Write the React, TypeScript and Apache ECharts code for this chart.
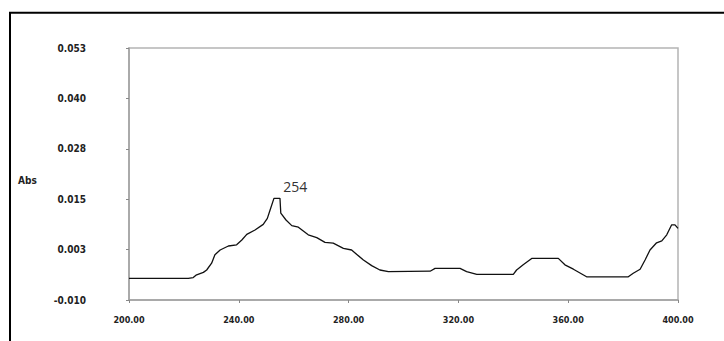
import React, { useEffect, useRef } from "react";
import * as echarts from "echarts";

// UV absorbance scan: wavelength (nm) and absorbance values
const WAVELENGTHS = [
  200, 221.6, 223.4, 224.4, 227.1, 228.3, 230.1, 231.3, 233.2, 236.2, 239.2,
  241.1, 242.9, 245.9, 248.9, 250.4, 251.4, 252.8, 254.0, 255.0, 255.3, 257.2,
  259.3, 261.7, 265.3, 268.4, 271.4, 274.4, 278.1, 281.1, 283.0, 285.4, 288.4,
  291.4, 294.5, 309.7, 311.5, 320.6, 323.0, 326.7, 340.0, 341.2, 343.6, 346.7,
  356.4, 358.8, 361.9, 366.7, 381.9, 383.7, 386.2, 388.0, 389.8, 392.2, 394.1,
  395.9, 397.7, 398.9, 400,
];
const ABSORBANCE = [
  -0.0046, -0.0046, -0.0044, -0.0038, -0.0031, -0.0025, -0.0008, 0.0013,
  0.0025, 0.0035, 0.0038, 0.005, 0.0064, 0.0075, 0.0089, 0.0104, 0.0125,
  0.0154, 0.0154, 0.0154, 0.0117, 0.01, 0.0086, 0.0082, 0.0063, 0.0056,
  0.0044, 0.0042, 0.0029, 0.0025, 0.0014, 0.0, -0.0014, -0.0025, -0.0029,
  -0.0028, -0.0021, -0.0021, -0.0029, -0.0036, -0.0036, -0.0025, -0.0012,
  0.0004, 0.0004, -0.0012, -0.0023, -0.0042, -0.0042, -0.0033, -0.0023, 0.0,
  0.0025, 0.0043, 0.0048, 0.0063, 0.0088, 0.0088, 0.0079,
];

// Axis ranges and tick values
const X_MIN = 200;
const X_MAX = 400;
const X_STEP = 40;
const Y_TICKS = [-0.01, 0.0026, 0.0152, 0.0278, 0.0404, 0.053];
const Y_NAME = "Abs";

// Annotated absorption maximum
const PEAK_WL = 254;
const PEAK_ABS = 0.0154;

const LABEL_FONT = "'DejaVu Sans Condensed', 'DejaVu Sans', sans-serif";

export default function App() {
  const ref = useRef<HTMLDivElement>(null);

  useEffect(() => {
    const chart = echarts.init(ref.current!, null, { renderer: "svg" });
    const points = WAVELENGTHS.map((w, i) => [w, ABSORBANCE[i]]);

    chart.setOption({
      animation: false,
      backgroundColor: "#ffffff",
      grid: {
        left: 129,
        top: 48,
        right: 46,
        bottom: 41,
        show: true,
        borderColor: "#b4b4b4",
        borderWidth: 1.5,
        backgroundColor: "transparent",
      },
      graphic: [
        {
          type: "rect",
          shape: { x: 10, y: 12.7, width: 800, height: 400 },
          style: { fill: "none", stroke: "#000", lineWidth: 2 },
          silent: true,
        },
        {
          type: "text",
          left: 18,
          top: 175,
          style: {
            text: Y_NAME,
            fill: "#222",
            font: `bold 10px ${LABEL_FONT}`,
          },
        },
      ],
      xAxis: {
        type: "value",
        min: X_MIN,
        max: X_MAX,
        interval: X_STEP,
        axisLine: {
          show: true,
          onZero: false,
          lineStyle: { color: "#a0a0a0", width: 1.5 },
        },
        axisTick: { show: true, length: 3, lineStyle: { color: "#888" } },
        axisLabel: {
          margin: 15,
          color: "#222",
          fontSize: 9,
          fontWeight: "bold",
          fontFamily: LABEL_FONT,
          formatter: (v: number) => v.toFixed(2),
        },
        splitLine: { show: false },
      },
      yAxis: {
        type: "value",
        min: Y_TICKS[0],
        max: Y_TICKS[Y_TICKS.length - 1],
        axisLine: {
          show: true,
          onZero: false,
          lineStyle: { color: "#a0a0a0", width: 1.5 },
        },
        axisTick: {
          show: true,
          length: 3,
          customValues: Y_TICKS,
          lineStyle: { color: "#888" },
        },
        axisLabel: {
          customValues: Y_TICKS,
          margin: 43,
          color: "#222",
          fontSize: 10,
          fontWeight: "bold",
          fontFamily: LABEL_FONT,
          padding: [0, 0, 2, 0],
          formatter: (v: number) => v.toFixed(3),
        },
        splitLine: { show: false },
      },
      series: [
        {
          type: "line",
          data: points,
          showSymbol: false,
          lineStyle: { color: "#111", width: 1.3 },
          markPoint: {
            symbol: "circle",
            symbolSize: 0,
            silent: true,
            data: [{ coord: [PEAK_WL, PEAK_ABS], value: PEAK_WL }],
            label: {
              show: true,
              position: "inside",
              offset: [18, -12],
              color: "#333",
              fontSize: 14,
              fontFamily: "'Open Sans', 'Noto Sans', sans-serif",
              formatter: String(PEAK_WL),
            },
          },
        },
      ],
    });

    return () => chart.dispose();
  }, []);

  return (
    <div
      ref={ref}
      style={{
        position: "fixed",
        left: 0,
        top: 0,
        width: 724,
        height: 341,
        background: "#fff",
      }}
    />
  );
}
